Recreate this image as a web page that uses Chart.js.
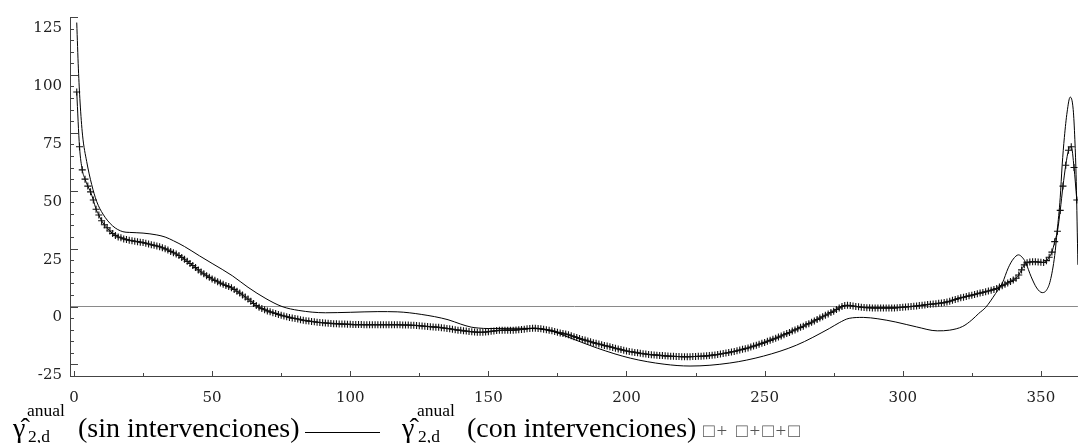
<!DOCTYPE html>
<html>
<head>
<meta charset="utf-8">
<script src="https://cdn.jsdelivr.net/npm/chart.js@4/dist/chart.umd.min.js"></script>
<style>
html,body{margin:0;padding:0;background:#fff;}
#wrap{position:relative;width:1083px;height:443px;overflow:hidden;background:#fff;}
canvas{position:absolute;left:0;top:0;}
.lg{position:absolute;font-family:"Liberation Serif","Times New Roman",serif;color:#000;white-space:nowrap;line-height:1;}
.big{font-size:28px;}
.sm{font-size:17.5px;}
</style>
</head>
<body>
<div id="wrap">
<canvas id="c" width="1083" height="443"></canvas>
<div class="lg big" style="left:13px;top:413.5px;">γ̂</div>
<div class="lg sm" style="left:27px;top:401.5px;">anual</div>
<div class="lg sm" style="left:28px;top:428.3px;">2,d</div>
<div class="lg big" style="left:78px;top:413.5px;">(sin intervenciones)</div>
<div style="position:absolute;left:305px;top:432px;width:75px;height:1px;background:#000;"></div>
<div class="lg big" style="left:402px;top:413.5px;">γ̂</div>
<div class="lg sm" style="left:417px;top:401.5px;">anual</div>
<div class="lg sm" style="left:418px;top:428.3px;">2,d</div>
<div class="lg big" style="left:467px;top:413.5px;">(con intervenciones)</div>
<div class="lg" style="left:703px;top:421px;font-size:19px;letter-spacing:2px;color:#555;">□+ □+□+□</div>
</div>
<script>
// ---- data ----
const xTickLabels = [0, 50, 100, 150, 200, 250, 300, 350];
const yTickLabels = [-25, 0, 25, 50, 75, 100, 125];
const xMin = -1.44, xMax = 363.4;
const yMin = -30, yMax = 125;

// sin intervenciones (solid line)
const sinDays = [1, 1.6, 2.2, 3.1, 4.6, 6.4, 8.2, 10.5, 14, 17.7,
  20, 25, 30, 33, 36, 40, 45.4, 50, 57.3, 63,
  69.5, 75.3, 81.4, 91, 100, 110, 117, 125.7, 135.4, 140,
  143.8, 146.5, 150, 160, 168, 173, 178, 189.5, 201.4, 213.6,
  223, 237.4, 249.6, 261.5, 273.4, 277, 280.6, 285.7, 291, 297.5,
  305, 312.5, 317, 321.7, 325, 327.5, 330, 333.6, 336, 338.2,
  340, 341.9, 343.2, 344.4, 346.5, 348.5, 350.5, 352, 353.4, 355,
  355.9, 357, 357.7, 358.5, 359.5, 360.6, 361.7, 362.3, 362.8, 363.4];
const sinValues = [122.6, 102.6, 88.3, 74, 62.6, 52.7, 45.4, 39.9, 34.8, 32.3,
  32, 31.7, 30.9, 30, 28.4, 25.9, 21.9, 18.6, 13.3, 8.3,
  3.4, 0, -1.7, -2.7, -2.5, -2.2, -2.3, -3.4, -5.7, -7.6,
  -8.9, -9.3, -9.5, -9.4, -9.6, -10.6, -12.8, -18, -22.3, -24.9,
  -25.7, -24.4, -21.4, -16.7, -9.5, -7, -5.1, -4.7, -5.3, -6.7,
  -8.8, -10.5, -10.2, -8.6, -5.8, -3, -0.4, 5.6, 10, 16.7,
  20.5, 22.3, 21.3, 19.2, 12.8, 8, 6, 7, 11.1, 22,
  32.6, 47, 61, 73, 84, 90.4, 85, 72, 54, 18];

// con intervenciones (daily, crosses), day 1 .. 363
const conStartDay = 1;
const conValues = [
  92.6, 69, 59, 55, 52, 49.5, 46, 42, 39.5, 37,
  35.3, 34, 32.6, 31.5, 30.7, 30, 29.7, 29.2, 28.9, 28.6,
  28.4, 28.2, 28, 27.8, 27.6, 27.3, 27, 26.7, 26.4, 26.1,
  25.8, 25.4, 24.9, 24.4, 23.8, 23.2, 22.7, 22, 21.2, 20.4,
  19.5, 18.6, 17.7, 16.8, 15.8, 14.9, 14.1, 13.3, 12.6, 11.9,
  11.3, 10.7, 10.1, 9.6, 9.1, 8.6, 8.1, 7.4, 6.6, 5.8,
  5, 4.1, 3.2, 2.3, 1.3, 0.4, -0.3, -0.9, -1.4, -1.9,
  -2.3, -2.7, -3, -3.4, -3.8, -4.1, -4.4, -4.7, -5, -5.2,
  -5.4, -5.7, -5.9, -6.1, -6.3, -6.5, -6.6, -6.8, -6.9, -7,
  -7.1, -7.2, -7.3, -7.4, -7.4, -7.5, -7.6, -7.6, -7.7, -7.7,
  -7.8, -7.8, -7.8, -7.8, -7.9, -7.9, -7.9, -7.9, -7.9, -7.9,
  -7.9, -7.9, -7.9, -7.9, -7.9, -7.9, -7.9, -7.9, -8, -8,
  -8, -8.1, -8.1, -8.2, -8.3, -8.4, -8.5, -8.6, -8.7, -8.8,
  -8.9, -9, -9.2, -9.3, -9.5, -9.6, -9.8, -10, -10.2, -10.3,
  -10.5, -10.6, -10.8, -10.9, -11, -11.1, -11.1, -11.1, -11, -10.9,
  -10.7, -10.6, -10.4, -10.3, -10.3, -10.2, -10.2, -10.2, -10.2, -10.1,
  -10, -9.9, -9.8, -9.6, -9.5, -9.4, -9.4, -9.5, -9.6, -9.8,
  -10, -10.2, -10.5, -10.8, -11.1, -11.4, -11.6, -11.9, -12.2, -12.6,
  -13, -13.4, -13.8, -14.2, -14.5, -14.9, -15.2, -15.6, -15.9, -16.2,
  -16.5, -16.8, -17.1, -17.4, -17.7, -18, -18.3, -18.6, -18.9, -19.2,
  -19.4, -19.6, -19.8, -20, -20.2, -20.4, -20.5, -20.7, -20.8, -20.9,
  -21, -21.1, -21.2, -21.3, -21.4, -21.5, -21.5, -21.6, -21.6, -21.7,
  -21.7, -21.7, -21.7, -21.6, -21.6, -21.5, -21.5, -21.4, -21.3, -21.2,
  -21, -20.9, -20.7, -20.5, -20.3, -20.1, -19.9, -19.6, -19.4, -19.1,
  -18.8, -18.5, -18.2, -17.9, -17.5, -17.1, -16.7, -16.3, -15.9, -15.5,
  -15, -14.6, -14.1, -13.7, -13.2, -12.7, -12.2, -11.7, -11.2, -10.6,
  -10.1, -9.6, -9, -8.5, -7.9, -7.4, -6.8, -6.2, -5.6, -5,
  -4.4, -3.8, -3.2, -2.6, -2, -1.3, -0.6, 0, 0.4, 0.5,
  0.4, 0.2, 0, -0.1, -0.3, -0.4, -0.5, -0.5, -0.6, -0.6,
  -0.6, -0.6, -0.6, -0.6, -0.6, -0.6, -0.6, -0.5, -0.4, -0.3,
  -0.2, -0.1, 0, 0.1, 0.2, 0.4, 0.5, 0.7, 0.9, 1,
  1.1, 1.2, 1.4, 1.5, 1.7, 2, 2.3, 2.7, 3, 3.4,
  3.8, 4, 4.3, 4.6, 4.9, 5.2, 5.5, 5.8, 6.1, 6.4,
  6.7, 7, 7.4, 7.8, 8.4, 9, 9.6, 10.2, 10.8, 11.4,
  12.2, 13.6, 15.8, 18, 18.9, 19.2, 19.3, 19.3, 19.2, 19.1,
  19, 19.8, 21.3, 23.5, 28, 32.5, 41.5, 52, 61, 67.5,
  69, 60, 46
];

// ---- style ----
const axisColor = '#444';
const xMinorStep = 25, yMinorStep = 5;

const innerTicks = {
  id: 'innerTicks',
  afterDraw(chart) {
    const {ctx, chartArea} = chart;
    const xs = chart.scales.x, ys = chart.scales.y;
    ctx.save();
    ctx.strokeStyle = axisColor;
    ctx.lineWidth = 1;
    ctx.beginPath();
    for (let v = xTickLabels[0]; v <= xTickLabels[xTickLabels.length - 1]; v += xMinorStep) {
      const px = Math.round(xs.getPixelForValue(v)) + 0.5;
      const len = xTickLabels.includes(v) ? 5 : 3;
      ctx.moveTo(px, chartArea.bottom);
      ctx.lineTo(px, chartArea.bottom - len);
    }
    for (let v = yTickLabels[0]; v <= yTickLabels[yTickLabels.length - 1]; v += yMinorStep) {
      const py = Math.round(ys.getPixelForValue(v)) + 0.5;
      const len = yTickLabels.includes(v) ? 8 : 4;
      ctx.moveTo(chartArea.left, py);
      ctx.lineTo(chartArea.left + len, py);
    }
    ctx.stroke();
    ctx.restore();
  }
};

const tickFont = {family: '"DejaVu Serif", serif', size: 15};

new Chart(document.getElementById('c'), {
  type: 'line',
  data: {
    datasets: [
      {
        label: 'sin intervenciones',
        data: sinDays.map((d, i) => ({x: d, y: sinValues[i]})),
        borderColor: '#000',
        borderWidth: 1,
        pointRadius: 0,
        cubicInterpolationMode: 'monotone',
        fill: false
      },
      {
        label: 'con intervenciones',
        data: conValues.map((v, i) => ({x: conStartDay + i, y: v})),
        borderColor: '#000',
        borderWidth: 1,
        pointStyle: 'cross',
        pointRadius: 3.5,
        pointBorderWidth: 1.1,
        pointBorderColor: '#111',
        pointBackgroundColor: '#111',
        cubicInterpolationMode: 'monotone',
        fill: false
      }
    ]
  },
  options: {
    responsive: false,
    animation: false,
    devicePixelRatio: 1,
    events: [],
    layout: {padding: {top: 14, left: 0, right: 0, bottom: 0}},
    plugins: {legend: {display: false}, tooltip: {enabled: false}},
    scales: {
      x: {
        type: 'linear',
        min: xMin,
        max: xMax,
        afterFit(s) { s.height = 67; },
        afterBuildTicks(s) { s.ticks = xTickLabels.map(v => ({value: v})); },
        grid: {display: false, drawTicks: false},
        border: {display: true, color: axisColor, width: 1},
        ticks: {font: tickFont, color: '#222', padding: 13, maxRotation: 0, autoSkip: false}
      },
      y: {
        type: 'linear',
        min: yMin,
        max: yMax,
        afterFit(s) { s.width = 70; },
        afterBuildTicks(s) { s.ticks = yTickLabels.map(v => ({value: v})); },
        grid: {
          drawTicks: false,
          lineWidth: 1,
          color: (c) => (c.tick && c.tick.value === 0) ? '#8a8a8a' : 'rgba(0,0,0,0)'
        },
        border: {display: true, color: axisColor, width: 1},
        ticks: {font: tickFont, color: '#222', padding: 8, labelOffset: 11, autoSkip: false}
      }
    }
  },
  plugins: [innerTicks]
});
</script>
</body>
</html>
